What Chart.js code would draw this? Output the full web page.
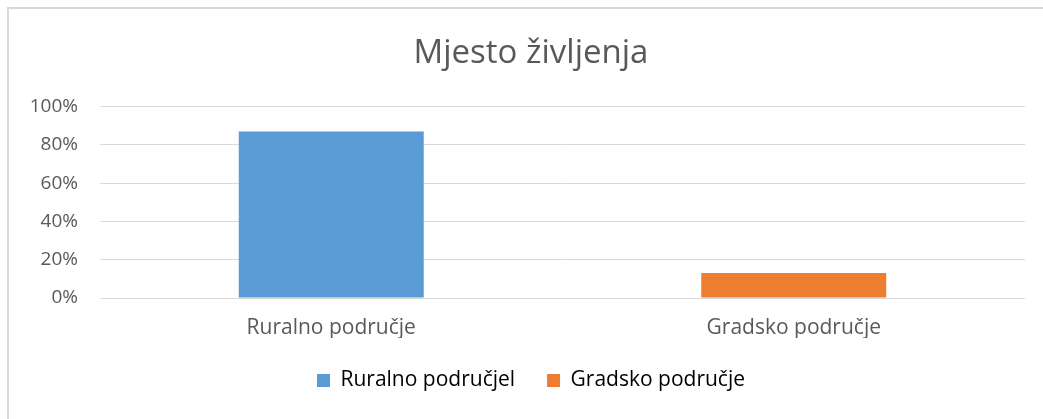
<!DOCTYPE html>
<html>
<head>
<meta charset="utf-8">
<script src="https://cdn.jsdelivr.net/npm/chart.js@4"></script>
<style>
  html, body { margin: 0; padding: 0; background: #fff; }
  #wrap { position: relative; width: 1043px; height: 419px; }
  #frame {
    position: absolute; left: 7px; top: 7px; right: 0; bottom: 0;
    border-top: 2px solid #d9d9d9; border-left: 2px solid #d9d9d9;
    pointer-events: none;
  }
</style>
</head>
<body>
<div id="wrap">
  <canvas id="mjestoChart" width="1043" height="419"></canvas>
  <div id="frame"></div>
</div>
<script>
const categories = ['Ruralno područje', 'Gradsko područje'];
const legendNames = ['Ruralno područjel', 'Gradsko područje'];
const shares = [87, 13];
const tickValues = [0, 20, 40, 60, 80, 100];
const barColors = ['#5b9bd5', '#ed7d31'];

document.addEventListener('DOMContentLoaded', function () {
    const ctx = document.getElementById('mjestoChart').getContext('2d');
    const textColor = '#595959';
    const fontFamily = '"Open Sans", Lato, sans-serif';

    new Chart(ctx, {
        type: 'bar',
        data: {
            labels: categories,
            datasets: [{
                label: 'Mjesto življenja',
                data: shares,
                backgroundColor: barColors,
                borderWidth: 0,
                barPercentage: 0.4,
                categoryPercentage: 1
            }]
        },
        options: {
            responsive: false,
            animation: false,
            layout: { padding: { left: 26, right: 7, top: 0, bottom: 19 } },
            plugins: {
                title: {
                    display: true,
                    text: 'Mjesto življenja',
                    color: textColor,
                    font: { family: fontFamily, size: 33, weight: 'normal' },
                    padding: { top: 34, bottom: 33 }
                },
                legend: {
                    position: 'bottom',
                    maxHeight: 62,
                    labels: {
                        color: textColor,
                        font: { family: fontFamily, size: 21 },
                        boxWidth: 13,
                        boxHeight: 13,
                        padding: 32,
                        generateLabels: function () {
                            return legendNames.map(function (name, i) {
                                return {
                                    text: name,
                                    fillStyle: barColors[i],
                                    strokeStyle: barColors[i],
                                    lineWidth: 0,
                                    hidden: false,
                                    index: i
                                };
                            });
                        }
                    },
                    onClick: null
                },
                tooltip: { enabled: false }
            },
            scales: {
                x: {
                    grid: { display: false },
                    border: { display: false },
                    ticks: {
                        color: textColor,
                        font: { family: fontFamily, size: 21 },
                        padding: 9
                    },
                    afterFit: function (scale) { scale.height = 40; }
                },
                y: {
                    min: 0,
                    max: 100,
                    afterBuildTicks: function (scale) {
                        scale.ticks = tickValues.map(function (v) { return { value: v }; });
                    },
                    grid: { color: '#d9d9d9', lineWidth: 1, drawTicks: false },
                    border: { display: false },
                    ticks: {
                        color: textColor,
                        font: { family: fontFamily, size: 19 },
                        padding: 22,
                        callback: function (v) { return v + '%'; }
                    },
                    afterFit: function (scale) { scale.width = 74; }
                },
                // empty spacer on the right so the plot ends before the title/legend box does
                yRight: {
                    position: 'right',
                    grid: { display: false },
                    border: { display: false },
                    ticks: { display: false },
                    afterFit: function (scale) { scale.width = 11; }
                }
            }
        }
    });
});
</script>
</body>
</html>
